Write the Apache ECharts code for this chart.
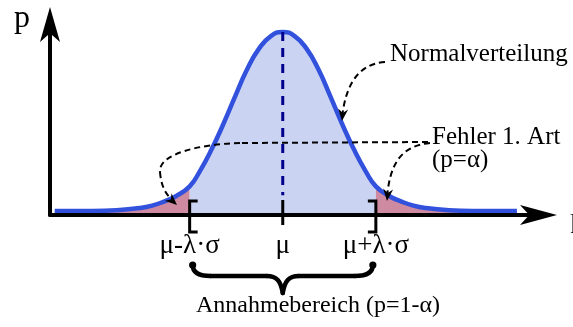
<!DOCTYPE html>
<html>
<head>
<meta charset="utf-8">
<script src="https://cdn.jsdelivr.net/npm/echarts@6/dist/echarts.min.js"></script>
<style>
  html, body { margin: 0; padding: 0; background: #ffffff; }
  #chart { width: 573px; height: 327px; }
</style>
</head>
<body>
<div id="chart"></div>
<script>
// Density of the test statistic, sampled at positions measured in sigma around mu
const zValues = [-4.8, -4, -3.5, -3, -2.75, -2.5, -2.25, -1.96, -1.75, -1.5, -1.25, -1, -0.75, -0.5, -0.25,
                 0, 0.25, 0.5, 0.75, 1, 1.25, 1.5, 1.75, 1.96, 2.25, 2.5, 2.75, 3, 3.5, 4, 4.93];
const pValues = [0, 0, 0.0016, 0.0067, 0.012, 0.021, 0.033, 0.055, 0.088, 0.137, 0.194, 0.256, 0.316, 0.362, 0.390,
                 0.399, 0.390, 0.362, 0.316, 0.256, 0.194, 0.137, 0.088, 0.055, 0.033, 0.021, 0.012, 0.0067, 0.0016, 0, 0];

// Bounds of the acceptance region (mu -/+ lambda*sigma) and the mean
const LAMBDA = 1.96;
const tickValues = [-LAMBDA, 0, LAMBDA];
const tickLabels = ['μ-λ·σ', 'μ', 'μ+λ·σ'];

// Axis ranges
const XMIN = -4.9, XMAX = 5.521;
const YMIN = -0.0089, YMAX = 0.428;

const BLUE = '#3251dc';
const ACCEPT_FILL = '#cbd3f3';
const REJECT_FILL = '#cd8aa0';
const SERIF = 'Liberation Serif';

const points = zValues.map((z, i) => [z, pValues[i]]);
const leftTail = points.filter(p => p[0] <= -LAMBDA);
const accept = points.filter(p => p[0] >= -LAMBDA && p[0] <= LAMBDA);
const rightTail = points.filter(p => p[0] >= LAMBDA);
const peak = Math.max.apply(null, pValues);
const meanLine = [[0, peak], [0, 0.035]];

function areaSeries(data, color) {
  return {
    type: 'line', data: data, smooth: true, showSymbol: false, symbol: 'none',
    lineStyle: { width: 0, opacity: 0 },
    areaStyle: { color: color, opacity: 1, origin: 'start' },
    silent: true, z: 1
  };
}

// Filled notched arrow head pointing from (fx, fy) towards (tx, ty)
function arrowHead(tx, ty, fx, fy, len, half) {
  const dx = tx - fx, dy = ty - fy;
  const l = Math.sqrt(dx * dx + dy * dy);
  const ux = dx / l, uy = dy / l;
  const nx = -uy, ny = ux;
  return {
    type: 'polygon', z: 20,
    shape: { points: [
      [tx, ty],
      [tx - ux * len + nx * half, ty - uy * len + ny * half],
      [tx - ux * len * 0.68, ty - uy * len * 0.68],
      [tx - ux * len - nx * half, ty - uy * len - ny * half]
    ] },
    style: { fill: '#000' }
  };
}

const dashStyle = { stroke: '#000', lineWidth: 2, lineDash: [6, 4], fill: null };

function curve(x1, y1, c1x, c1y, c2x, c2y, x2, y2) {
  return {
    type: 'bezierCurve', z: 20,
    shape: { x1: x1, y1: y1, cpx1: c1x, cpy1: c1y, cpx2: c2x, cpy2: c2y, x2: x2, y2: y2 },
    style: dashStyle
  };
}

function label(text, x, y, size) {
  return {
    type: 'text', z: 20, x: x, y: y,
    style: {
      text: text, fill: '#000', fontSize: size, fontFamily: SERIF,
      align: 'left', verticalAlign: 'middle', textAlign: 'left', textVerticalAlign: 'middle'
    }
  };
}

// Brackets at the bounds, tick at mu and the brace under the acceptance region
function renderMarks(params, api) {
  const v = api.value(0);
  const p = api.coord([v, YMIN]);
  const x = p[0], y = p[1];
  const black = { stroke: '#000', fill: null, lineWidth: 3 };
  const children = [];
  if (params.dataIndex === 0 || params.dataIndex === 2) {
    const dir = params.dataIndex === 0 ? 1 : -1;
    children.push({
      type: 'polyline',
      shape: { points: [[x + dir * 8, y - 14], [x, y - 14], [x, y + 17], [x + dir * 8, y + 17]] },
      style: black
    });
  } else {
    children.push({ type: 'line', shape: { x1: x, y1: y - 15, x2: x, y2: y + 10 }, style: black });
    const xl = api.coord([-LAMBDA, YMIN])[0] + 3;
    const xr = api.coord([LAMBDA, YMIN])[0] - 3;
    const b = { stroke: '#000', fill: null, lineWidth: 4.5, lineCap: 'round' };
    const yEnd = y + 50, yMid = y + 61, yTip = y + 78;
    children.push(
      { type: 'bezierCurve', shape: { x1: xl, y1: yEnd, cpx1: xl, cpy1: yEnd + 7, cpx2: xl + 6, cpy2: yMid, x2: xl + 18, y2: yMid }, style: b },
      { type: 'line', shape: { x1: xl + 18, y1: yMid, x2: x - 16, y2: yMid }, style: b },
      { type: 'bezierCurve', shape: { x1: x - 16, y1: yMid, cpx1: x - 6, cpy1: yMid, cpx2: x - 2, cpy2: yMid + 5, x2: x, y2: yTip }, style: b },
      { type: 'bezierCurve', shape: { x1: x + 16, y1: yMid, cpx1: x + 6, cpy1: yMid, cpx2: x + 2, cpy2: yMid + 5, x2: x, y2: yTip }, style: b },
      { type: 'line', shape: { x1: x + 16, y1: yMid, x2: xr - 18, y2: yMid }, style: b },
      { type: 'bezierCurve', shape: { x1: xr, y1: yEnd, cpx1: xr, cpy1: yEnd + 7, cpx2: xr - 6, cpy2: yMid, x2: xr - 18, y2: yMid }, style: b },
      { type: 'circle', shape: { cx: xl, cy: yEnd, r: 3.6 }, style: { fill: '#000' } },
      { type: 'circle', shape: { cx: xr, cy: yEnd, r: 3.6 }, style: { fill: '#000' } }
    );
  }
  return { type: 'group', children: children };
}

const chart = echarts.init(document.getElementById('chart'), null, { renderer: 'canvas' });

chart.setOption({
  animation: false,
  backgroundColor: '#ffffff',
  grid: { left: 50, right: 28, top: 19, bottom: 112, outerBoundsMode: 'none', containLabel: false },
  xAxis: {
    type: 'value', min: XMIN, max: XMAX, z: 10,
    axisLine: {
      show: true, onZero: false,
      symbol: ['none', 'arrow'], symbolSize: [15, 37], symbolOffset: [0, 12],
      lineStyle: { color: '#000', width: 4 }
    },
    axisTick: { show: false },
    splitLine: { show: false },
    axisLabel: {
      show: true, customValues: tickValues, margin: 17,
      color: '#000', fontSize: 27, fontFamily: SERIF,
      formatter: function (v) {
        for (let i = 0; i < tickValues.length; i++) {
          if (Math.abs(tickValues[i] - v) < 1e-6) return tickLabels[i];
        }
        return '';
      }
    }
  },
  yAxis: {
    type: 'value', min: YMIN, max: YMAX, z: 10,
    axisLine: {
      show: true, onZero: false,
      symbol: ['none', 'arrow'], symbolSize: [15, 35], symbolOffset: [0, 12],
      lineStyle: { color: '#000', width: 4 }
    },
    axisTick: { show: false },
    axisLabel: { show: false },
    splitLine: { show: false }
  },
  series: [
    areaSeries(leftTail, REJECT_FILL),
    areaSeries(accept, ACCEPT_FILL),
    areaSeries(rightTail, REJECT_FILL),
    {
      type: 'line', data: points, smooth: true, showSymbol: false, symbol: 'none',
      lineStyle: { color: BLUE, width: 4.5 }, z: 3, silent: true
    },
    {
      type: 'line', data: meanLine, showSymbol: false, symbol: 'none',
      lineStyle: { color: '#00008b', width: 3, type: [9, 7] }, z: 4, silent: true
    },
    {
      type: 'custom', data: tickValues.map(v => [v]), renderItem: renderMarks,
      clip: false, z: 6, silent: true
    }
  ],
  graphic: [
    label('p', 14, 19, 32),
    label('Normalverteilung', 390, 54, 25),
    label('Fehler 1. Art', 432, 137, 25),
    label('(p=α)', 432, 160, 25),
    label('Annahmebereich (p=1-α)', 196, 306, 24),
    label('k', 570, 226, 28),
    curve(385, 62, 355, 64, 345, 90, 342, 118),
    arrowHead(342, 121, 344, 100, 12, 5),
    { type: 'line', z: 20, shape: { x1: 428, y1: 142, x2: 240, y2: 143 }, style: dashStyle },
    curve(240, 143, 200, 144, 158, 154, 160, 172),
    curve(160, 172, 161, 186, 166, 195, 174, 202),
    arrowHead(177, 205, 166, 195, 12, 5),
    curve(430, 143, 400, 146, 390, 165, 387, 197),
    arrowHead(387, 201, 389, 180, 12, 5)
  ]
});
</script>
</body>
</html>
